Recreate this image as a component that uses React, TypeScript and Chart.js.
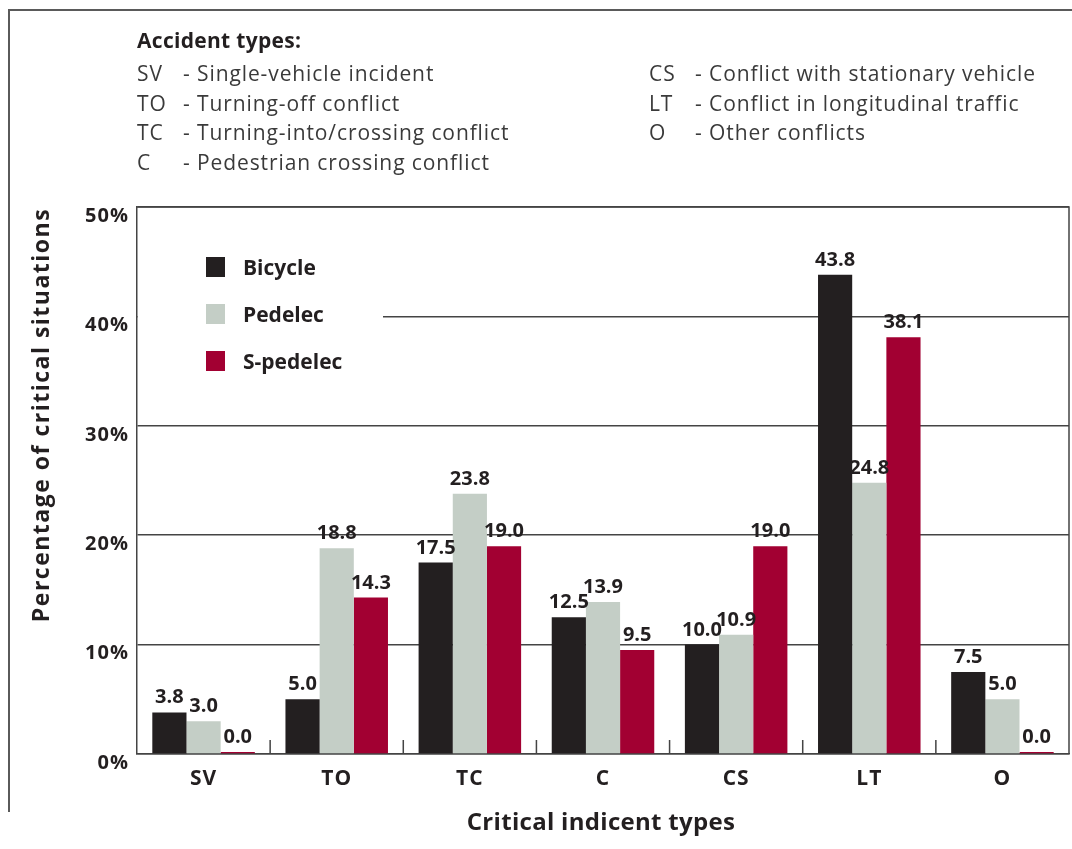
import React, { useEffect, useRef } from "react";
import { Chart, registerables } from "chart.js";

Chart.register(...registerables);

const categories = ["SV", "TO", "TC", "C", "CS", "LT", "O"];
const bicycle = [3.8, 5.0, 17.5, 12.5, 10.0, 43.8, 7.5];
const pedelec = [3.0, 18.8, 23.8, 13.9, 10.9, 24.8, 5.0];
const sPedelec = [0.0, 14.3, 19.0, 9.5, 19.0, 38.1, 0.0];
const seriesNames = ["Bicycle", "Pedelec", "S-pedelec"];
const seriesColors = ["#231f20", "#c4cec6", "#a20032"];
const yMax = 50;
const yStep = 10;

const headerTitle = "Accident types:";
const headerLeftCodes = ["SV", "TO", "TC", "C"];
const headerLeftTexts = [
  "- Single-vehicle incident",
  "- Turning-off conflict",
  "- Turning-into/crossing conflict",
  "- Pedestrian crossing conflict",
];
const headerRightCodes = ["CS", "LT", "O"];
const headerRightTexts = [
  "- Conflict with stationary vehicle",
  "- Conflict in longitudinal traffic",
  "- Other conflicts",
];
const yTitle = "Percentage of critical situations";
const xTitle = "Critical indicent types";

const FONT = "'Open Sans', 'DejaVu Sans', sans-serif";
const TEXT = "#231f20";
const GRID = "#444444";

const customPlugin = {
  id: "customDecor",
  beforeDraw(chart: any) {
    chart.ctx.letterSpacing = "1px";
  },
  beforeDatasetsDraw(chart: any) {
    const { ctx, chartArea: a } = chart;
    ctx.save();
    ctx.letterSpacing = "0px";
    // white backdrop of the legend (covers the gridline)
    ctx.fillStyle = "#ffffff";
    ctx.fillRect(a.left + 1, a.top + 2, 245, 180);
    // legend
    ctx.font = `bold 21px ${FONT}`;
    ctx.textBaseline = "alphabetic";
    ctx.textAlign = "left";
    seriesNames.forEach((name, i) => {
      const by = 275 + i * 47;
      ctx.fillStyle = seriesColors[i];
      ctx.fillRect(a.left + 69, by - 18, 19, 20);
      ctx.fillStyle = TEXT;
      ctx.fillText(name, a.left + 106, by);
    });
    ctx.restore();
  },
  afterDatasetsDraw(chart: any) {
    const { ctx, chartArea: a } = chart;
    ctx.save();
    ctx.letterSpacing = "0px";
    // value labels
    ctx.font = `bold 20px ${FONT}`;
    ctx.fillStyle = TEXT;
    ctx.textAlign = "center";
    ctx.textBaseline = "alphabetic";
    chart.data.datasets.forEach((ds: any, di: number) => {
      const meta = chart.getDatasetMeta(di);
      meta.data.forEach((bar: any, i: number) => {
        const v = ds.data[i] as number;
        ctx.fillText(v.toFixed(1), bar.x, bar.y - 9);
      });
    });
    // plot frame
    ctx.strokeStyle = GRID;
    ctx.lineWidth = 1.5;
    ctx.beginPath();
    ctx.moveTo(a.left, a.top);
    ctx.lineTo(a.right, a.top);
    ctx.lineTo(a.right, a.bottom);
    ctx.stroke();
    // category separators at bottom
    const xs = chart.scales.x;
    const n = categories.length;
    const w = (a.right - a.left) / n;
    ctx.beginPath();
    for (let i = 0; i < n - 1; i++) {
      const px = xs.getPixelForValue(i) + w / 2;
      ctx.moveTo(px, a.bottom);
      ctx.lineTo(px, a.bottom - 14);
    }
    ctx.stroke();
    ctx.restore();
  },
  afterDraw(chart: any) {
    const { ctx, chartArea: a } = chart;
    ctx.save();
    // outer frame
    ctx.strokeStyle = "#5a5a5a";
    ctx.lineWidth = 2;
    ctx.beginPath();
    ctx.moveTo(1072, 10);
    ctx.lineTo(9, 10);
    ctx.lineTo(9, 812);
    ctx.stroke();
    // header
    ctx.fillStyle = TEXT;
    ctx.textAlign = "left";
    ctx.textBaseline = "alphabetic";
    ctx.letterSpacing = "0.3px";
    ctx.font = `bold 21px ${FONT}`;
    ctx.fillText(headerTitle, 137, 48);
    ctx.fillStyle = "#3a3a3a";
    ctx.font = `21px ${FONT}`;
    ctx.letterSpacing = "0.9px";
    headerLeftCodes.forEach((c, i) => {
      const by = 81 + i * 29.7;
      ctx.fillText(c, 137, by);
      ctx.fillText(headerLeftTexts[i], 183, by);
    });
    headerRightCodes.forEach((c, i) => {
      const by = 81 + i * 29.7;
      ctx.fillText(c, 649, by);
      ctx.fillText(headerRightTexts[i], 695, by);
    });
    // y title
    ctx.fillStyle = TEXT;
    ctx.letterSpacing = "1.5px";
    ctx.font = `bold 23px ${FONT}`;
    ctx.textAlign = "center";
    ctx.textBaseline = "middle";
    ctx.translate(42, 415);
    ctx.rotate(-Math.PI / 2);
    ctx.fillText(yTitle, 0, 0);
    ctx.setTransform(1, 0, 0, 1, 0, 0);
    // x title
    ctx.letterSpacing = "0.3px";
    ctx.font = `bold 24px ${FONT}`;
    ctx.textAlign = "center";
    ctx.textBaseline = "middle";
    ctx.fillText(xTitle, (a.left + a.right) / 2 - 2, 823);
    ctx.restore();
    ctx.letterSpacing = "0px";
  },
};

export default function App() {
  const ref = useRef<HTMLCanvasElement | null>(null);
  useEffect(() => {
    if (!ref.current) return;
    const chart = new Chart(ref.current, {
      type: "bar",
      data: {
        labels: categories,
        datasets: [
          { label: seriesNames[0], data: bicycle, backgroundColor: seriesColors[0] },
          { label: seriesNames[1], data: pedelec, backgroundColor: seriesColors[1] },
          { label: seriesNames[2], data: sPedelec, backgroundColor: seriesColors[2] },
        ],
      },
      options: {
        responsive: false,
        animation: false,
        devicePixelRatio: 1,
        layout: { padding: { left: 0, top: 207, right: 3, bottom: 0 } },
        datasets: {
          bar: {
            categoryPercentage: 0.77,
            barPercentage: 1.0,
            minBarLength: 2,
            borderWidth: 0,
          },
        },
        plugins: {
          legend: { display: false },
          tooltip: { enabled: false },
          title: { display: false },
        },
        scales: {
          x: {
            grid: { display: false, drawTicks: false },
            border: { display: true, color: GRID, width: 1.5 },
            ticks: {
              font: { family: FONT, size: 21, weight: "bold" },
              color: TEXT,
              padding: 12,
            },
            afterFit: (s: any) => {
              s.height = 95;
            },
          },
          y: {
            min: 0,
            max: yMax,
            grid: { color: GRID, lineWidth: 1.5, drawTicks: false },
            border: { display: true, color: GRID, width: 1.5 },
            ticks: {
              stepSize: yStep,
              font: { family: FONT, size: 20, weight: "bold" },
              color: TEXT,
              padding: 8,
              labelOffset: 9,
              callback: (v: any) => `${v}%`,
            },
            afterFit: (s: any) => {
              s.width = 137;
            },
          },
        },
      },
      plugins: [customPlugin],
    });
    return () => chart.destroy();
  }, []);
  return (
    <div style={{ position: "absolute", left: 0, top: 0, width: 1072, height: 849, background: "#fff" }}>
      <canvas ref={ref} width={1072} height={849} style={{ display: "block" }} />
    </div>
  );
}
